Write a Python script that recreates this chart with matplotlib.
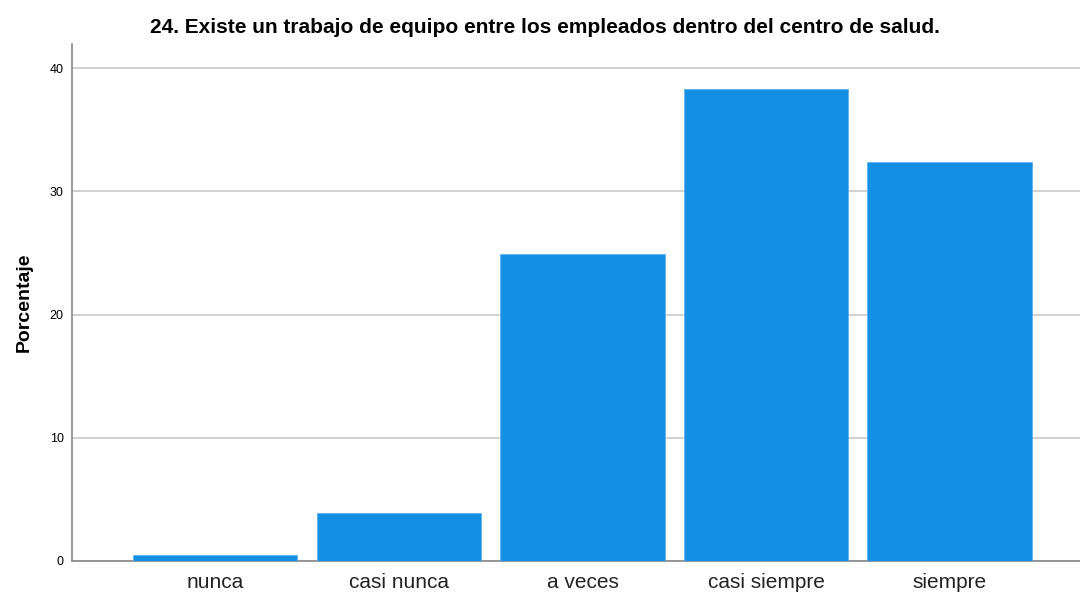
import numpy as np
import matplotlib.pyplot as plt

plt.rcParams['font.family'] = ['Liberation Sans', 'DejaVu Sans']

categories = ['nunca', 'casi nunca', 'a veces', 'casi siempre', 'siempre']
porcentaje = [0.5, 3.9, 24.9, 38.3, 32.4]
yticks = [0, 10, 20, 30, 40]
title = '24. Existe un trabajo de equipo entre los empleados dentro del centro de salud.'

fig = plt.figure(figsize=(10.8, 5.92), dpi=100)
ax = fig.add_axes([0.0667, 0.0524, 0.9333, 0.874])

x = np.arange(len(categories))
ax.bar(x, porcentaje, width=0.895, color='#1390e6', edgecolor='#5fb2ee', linewidth=0.6, zorder=3)

ax.set_xlim(-0.78, 4.71)
ax.set_ylim(0, 42)
ax.set_yticks(yticks)
ax.set_yticklabels([str(t) for t in yticks], fontsize=9)
ax.set_xticks(x)
ax.set_xticklabels(categories, fontsize=15, color='#222222')
ax.tick_params(axis='both', length=0)
ax.tick_params(axis='y', pad=6)
ax.tick_params(axis='x', pad=9)
ax.yaxis.grid(True, color='#c8c8c8', linewidth=1.2, zorder=0)

for s in ['top', 'right']:
    ax.spines[s].set_visible(False)
for s in ['left', 'bottom']:
    ax.spines[s].set_color('#888888')
    ax.spines[s].set_linewidth(1.2)

ax.set_ylabel('Porcentaje', fontsize=14, fontweight='bold', labelpad=12)
fig.text(0.505, 0.953, title, ha='center', va='center', fontsize=15, fontweight='bold')

fig.savefig('out.png', dpi=100)
